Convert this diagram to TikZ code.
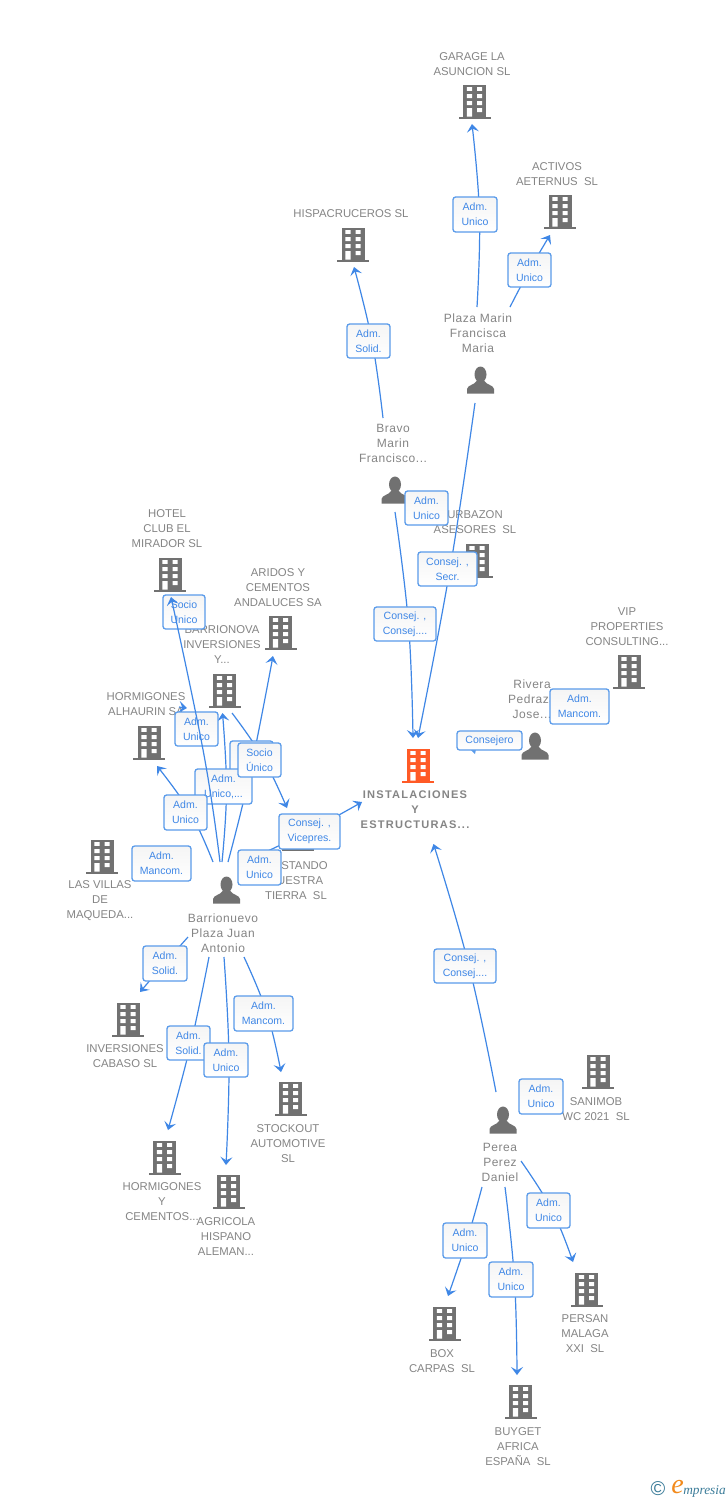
\documentclass[tikz,border=0pt]{standalone}
\usepackage{fontspec}
\setmainfont{Liberation Sans}
\newfontfamily\mainlabfont[LetterSpace=11]{Liberation Sans}
\newfontfamily\perlabfont[LetterSpace=4.5]{Liberation Sans}
\newfontfamily\logofont{Liberation Serif}
\usetikzlibrary{arrows.meta}
\definecolor{txtgray}{HTML}{858585}
\definecolor{icongray}{HTML}{717171}
\definecolor{linkblue}{HTML}{3F87E6}
\definecolor{boxblue}{HTML}{5A9BEA}
\definecolor{mainorange}{HTML}{FF5A26}
\definecolor{logoteal}{HTML}{3B7C99}
\definecolor{logoorange}{HTML}{F28A1C}
\tikzset{
  lab/.style={inner sep=0pt,align=center,text=txtgray,yshift=-0.75pt,font=\fontsize{8.5}{11.25}\selectfont},
  perlab/.style={inner sep=0pt,align=center,text=txtgray,font=\perlabfont\fontsize{9}{11.25}\selectfont},
  mainlab/.style={inner sep=0pt,align=center,text=txtgray,yshift=-0.75pt,font=\mainlabfont\bfseries\fontsize{8.3}{11.25}\selectfont},
  conn/.style={draw=linkblue,line width=0.9pt,-{Stealth[length=6pt,width=9pt,inset=2.5pt]}},
  tagbox/.style={draw=boxblue,line width=0.95pt,rounded corners=2pt,top color=black!4,bottom color=white,
    inner sep=0pt,align=center,text=linkblue,font=\fontsize{7.9}{11.25}\selectfont},
  icon/.style={inner sep=0pt,minimum width=24pt,minimum height=26pt}
}
% building icon: name, cx, cy, colour
\newcommand{\bldg}[4]{%
  \node[icon] (#1) at (#2,#3) {};
  \begin{scope}[shift={(#2,#3)}]
    \fill[#4] (-11.5,-16.5) rectangle (11.5,15.5);
    \fill[#4] (-16,15.5) rectangle (16,17.5);
    \fill[white] (-7.7,-14) rectangle (-2.5,-10.2) (2.7,-14) rectangle (7.7,-10.2)
      (-7.7,-7) rectangle (-2.5,-3) (2.7,-7) rectangle (7.7,-3)
      (-7.7,0) rectangle (-2.5,4) (2.7,0) rectangle (7.7,4)
      (-7.7,7) rectangle (-2.5,15.5) (2.7,7) rectangle (7.7,11);
  \end{scope}}
% person icon: name, cx, cy
\newcommand{\persona}[3]{%
  \node[icon] (#1) at (#2,#3) {};
  \begin{scope}[shift={(#2,#3)}]
    \fill[icongray] (0,-5.5) ellipse [x radius=6,y radius=8];
    \fill[icongray] (-13.5,13.5) -- (-13.5,9) .. controls (-13,5) and (-6,5) .. (-4,1) -- (4,1)
      .. controls (6,5) and (13,5) .. (13.5,9) -- (13.5,13.5) -- cycle;
  \end{scope}}
% tag box: name, cx, cy, width, height, text
\newcommand{\tagb}[6]{\node[tagbox,minimum width=#4*0.75pt,minimum height=#5*0.75pt] (#1) at (#2,#3) {#6};}
% connector: name, start, via points, tip
\newcommand{\link}[4]{%
  \coordinate (#1s) at (#2);
  \coordinate (#1t) at (#4);
  \draw[conn] plot[smooth,tension=0.7] coordinates {(#1s) #3 (#1t)};}
\begin{document}
\begin{tikzpicture}[x=0.75pt,y=-0.75pt]
\useasboundingbox (0,0) rectangle (728,1500);
\fill[white] (0,0) rectangle (728,1500);

% labels
\node[lab] (lgarage) at (472,63.5) {GARAGE LA\\ASUNCION SL};
\node[lab] (lactivos) at (557,173.5) {ACTIVOS\\AETERNUS\ \ SL};
\node[lab] (lhisp) at (351,213) {HISPACRUCEROS SL};
\node[perlab] (lplaza) at (478,333) {Plaza Marin\\Francisca\\Maria};
\node[perlab] (lbravo) at (393,443) {Bravo\\Marin\\Francisco...};
\node[lab] (lurb) at (475,521.5) {URBAZON\\ASESORES\ \ SL};
\node[lab] (lvip) at (627,626) {VIP\\PROPERTIES\\CONSULTING...};
\node[perlab] (lrivera) at (532,699) {Rivera\\Pedraza\\Jose...};
\node[lab] (lhotel) at (167,528) {HOTEL\\CLUB EL\\MIRADOR SL};
\node[lab] (larid) at (278,587) {ARIDOS Y\\CEMENTOS\\ANDALUCES SA};
\node[lab] (lbarr) at (222,644) {BARRIONOVA\\INVERSIONES\\Y...};
\node[lab] (lalh) at (146,703.5) {HORMIGONES\\ALHAURIN SA};
\node[lab] (lvill) at (100,900) {LAS VILLAS\\DE\\MAQUEDA...};
\node[lab] (lcost) at (296,880) {COSTANDO\\NUESTRA\\TIERRA\ \ SL};
\node[perlab] (ljuan) at (223,933) {Barrionuevo\\Plaza Juan\\Antonio};
\node[lab] (linv) at (125,1055.5) {INVERSIONES\\CABASO SL};
\node[lab] (lhorm) at (162,1201) {HORMIGONES\\Y\\CEMENTOS...};
\node[lab] (lagri) at (226,1236) {AGRICOLA\\HISPANO\\ALEMAN...};
\node[lab] (lstock) at (288,1143) {STOCKOUT\\AUTOMOTIVE\\SL};
\node[lab] (lsani) at (596,1108.5) {SANIMOB\\WC 2021\ \ SL};
\node[perlab] (lperea) at (500,1162) {Perea\\Perez\\Daniel};
\node[lab] (lpers) at (585,1333) {PERSAN\\MALAGA\\XXI\ \ SL};
\node[lab] (lboxc) at (442,1360.5) {BOX\\CARPAS\ \ SL};
\node[lab] (lbuy) at (518,1446) {BUYGET\\AFRICA\\ESPAÑA\ \ SL};
\node[mainlab] (lmain) at (415,809) {INSTALACIONES\\Y\\ESTRUCTURAS...};

% icons
\bldg{garage}{474.5}{101}{icongray}
\bldg{activos}{560}{211}{icongray}
\bldg{hisp}{353}{244}{icongray}
\bldg{urb}{477}{560}{icongray}
\bldg{vip}{629}{671}{icongray}
\bldg{hotel}{170}{574}{icongray}
\bldg{aridos}{280.5}{632}{icongray}
\bldg{barrionova}{224.5}{690}{icongray}
\bldg{alhaurin}{149}{742}{icongray}
\bldg{villas}{102}{856}{icongray}
\bldg{costando}{298}{833}{icongray}
\bldg{inversiones}{128}{1019}{icongray}
\bldg{hormigones}{164.5}{1157}{icongray}
\bldg{agricola}{228.5}{1191}{icongray}
\bldg{stockout}{290.5}{1098}{icongray}
\bldg{sanimob}{598}{1071}{icongray}
\bldg{persan}{586.5}{1289}{icongray}
\bldg{boxcarpas}{444.5}{1323}{icongray}
\bldg{buyget}{520.5}{1401}{icongray}
\bldg{mainco}{418}{765}{mainorange}
\persona{pplaza}{480.5}{380}
\persona{pbravo}{395}{490}
\persona{privera}{535}{746}
\persona{pjuan}{226.5}{890}
\persona{pperea}{503}{1120}

% connectors
\link{a}{477,307}{(479.5,215)}{472,124}
\link{b}{510,307}{(529.5,270)}{550,235}
\link{c}{383,418}{(372,341)}{354,267}
\link{d}{475,403}{(450,569)}{418,738}
\link{e}{395,512}{(408.5,624)}{413,738}
\link{f}{213,862}{(190,812)}{157,766}
\link{g}{222,862}{(226.5,790)}{222.5,713}
\link{h}{228,862}{(250,773)}{273,656}
\link{i}{232,713}{(263,758)}{287,808}
\link{j}{240,864}{(307,832)}{362,802}
\link{k}{188,937}{(165,963)}{140,992}
\link{l}{209,957}{(191,1043)}{168,1130}
\link{m}{224,957}{(229,1060)}{226,1165}
\link{n}{244,957}{(267,1013)}{281,1072}
\link{o}{496,1092}{(469,966)}{433.5,844}
\link{p}{521,1161}{(552,1210)}{573,1262}
\link{q}{482,1187}{(467,1240)}{448,1296}
\link{r}{505,1187}{(514.5,1280)}{517,1375}
\link{s}{179,707}{}{187,708}

% tag boxes
\tagb{ta}{475}{214.5}{44}{35}{Adm.\\Unico}
\tagb{tb}{529.5}{270}{43}{34}{Adm.\\Unico}
\tagb{tc}{368.5}{341}{43}{34}{Adm.\\Solid.}
\tagb{td}{426.5}{508}{43}{34}{Adm.\\Unico}
\tagb{te}{447.5}{569}{59}{34}{Consej. ,\\Secr.}
\tagb{tf}{405}{624}{62}{34}{Consej. ,\\Consej....}
\tagb{tg}{579.5}{706.5}{59}{35}{Adm.\\Mancom.}
\fill[boxblue] (470,749) -- (476,749) -- (475,754) -- cycle;
\tagb{th}{489.5}{740.5}{65}{19}{Consejero}
\tagb{ti}{184}{612}{42}{34}{Socio\\Unico}
\tagb{tj}{196.5}{729}{43}{34}{Adm.\\Unico}
\tagb{tk}{251.5}{758.5}{43}{35}{Adm.\\Unico}
\tagb{tl}{223.5}{786.5}{57}{35}{Adm.\\Unico,...}
\tagb{tm}{259.5}{760}{43}{34}{Socio\\Único}
\tagb{tn}{185.5}{812.5}{43}{35}{Adm.\\Unico}
\tagb{to}{161.5}{863.5}{59}{35}{Adm.\\Mancom.}
\tagb{tp}{309.5}{831.5}{61}{35}{Consej. ,\\Vicepres.}
\tagb{tq}{259.5}{867.5}{43}{35}{Adm.\\Unico}
\tagb{tr}{165}{963.5}{44}{35}{Adm.\\Solid.}
\tagb{ts}{263.5}{1013.5}{59}{35}{Adm.\\Mancom.}
\tagb{tt}{188.5}{1043}{43}{34}{Adm.\\Solid.}
\tagb{tu}{226}{1060}{44}{34}{Adm.\\Unico}
\tagb{tv}{465}{966}{62}{34}{Consej. ,\\Consej....}
\tagb{tw}{541}{1096.5}{44}{35}{Adm.\\Unico}
\tagb{tx}{548.5}{1210.5}{43}{35}{Adm.\\Unico}
\tagb{ty}{465}{1240.5}{44}{35}{Adm.\\Unico}
\tagb{tz}{511}{1279.5}{44}{35}{Adm.\\Unico}

% the one connector that runs over its box
\link{u}{220,862}{(204,755)}{171,597}

% logo
\node[inner sep=0pt,text=logoteal,font=\fontsize{15}{15}\selectfont] (logoc) at (658,1488.5) {©};
\node[inner sep=0pt,text=logoorange,font=\logofont\itshape\fontsize{21}{21}\selectfont] (logoe) at (677.5,1487.5) {e};
\node[inner sep=0pt,anchor=west,text=logoteal,font=\logofont\itshape\fontsize{10}{10}\selectfont] (logot) at (683,1491) {mpresia};
\end{tikzpicture}
\end{document}
